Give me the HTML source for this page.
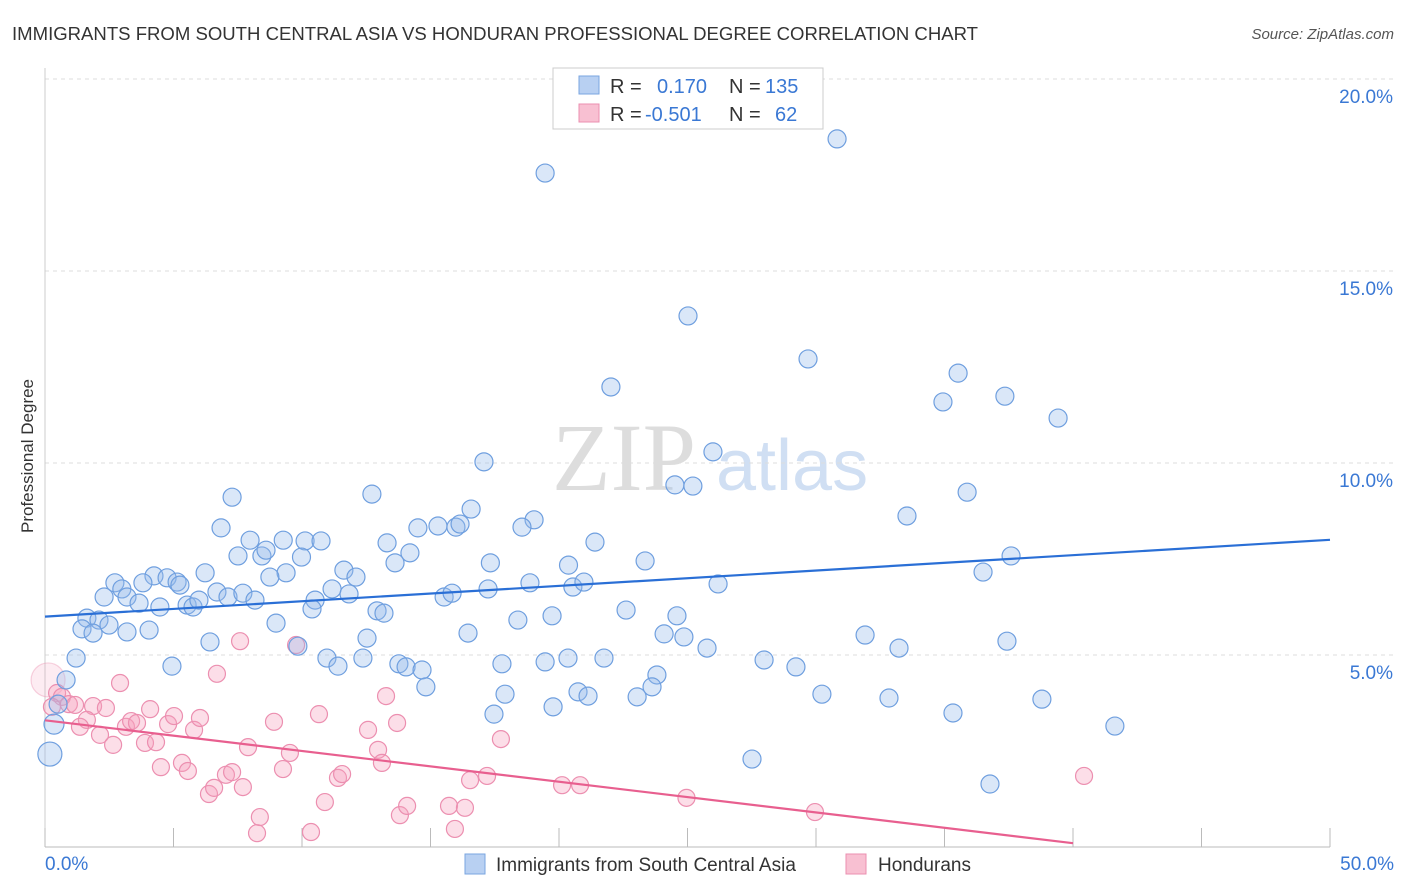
<!DOCTYPE html>
<html><head><meta charset="utf-8"><style>
body{margin:0;background:#fff;font-family:"Liberation Sans",sans-serif;}
svg{display:block}
</style></head><body>
<svg id="chart" width="1406" height="892">
<text x="12" y="40" font-size="18" fill="#333" textLength="966" lengthAdjust="spacingAndGlyphs">IMMIGRANTS FROM SOUTH CENTRAL ASIA VS HONDURAN PROFESSIONAL DEGREE CORRELATION CHART</text>
<text x="1394" y="39" font-size="15" fill="#555" font-style="italic" text-anchor="end">Source: ZipAtlas.com</text>
<text x="33" y="456" font-size="17" fill="#333" text-anchor="middle" transform="rotate(-90 33 456)">Professional Degree</text>
<g><text x="552" y="490" font-size="96" font-family="Liberation Serif,serif" fill="#ddd">ZIP</text><text x="716" y="490" font-size="72" fill="#d0dff3">atlas</text></g>
<g id="grid"></g><g id="marks"></g>
<g>
<rect x="553" y="68" width="270" height="61" fill="#fff" stroke="#ccc"/>
<rect x="579" y="76" width="20" height="18" fill="#b8d0f2" stroke="#7aa6e0"/>
<rect x="579" y="104" width="20" height="18" fill="#f8c0d2" stroke="#eb8fb0"/>
<text x="610" y="93" font-size="20" fill="#333">R = <tspan x="657" fill="#3a78d4">0.170</tspan><tspan x="729" fill="#333">N =</tspan><tspan x="765" fill="#3a78d4">135</tspan></text>
<text x="610" y="121" font-size="20" fill="#333">R = <tspan x="645" fill="#3a78d4">-0.501</tspan><tspan x="729" fill="#333">N =</tspan><tspan x="775" fill="#3a78d4">62</tspan></text>
</g>
<g>
<rect x="465" y="854" width="20" height="20" fill="#b8d0f2" stroke="#7aa6e0"/>
<text x="496" y="871" font-size="19" fill="#333">Immigrants from South Central Asia</text>
<rect x="846" y="854" width="20" height="20" fill="#f8c0d2" stroke="#eb8fb0"/>
<text x="878" y="871" font-size="19" fill="#333">Hondurans</text>
</g>
</svg>
<script>
const blueX=[19.46,30.82,25.02,29.69,22.02,35.53,34.94,37.35,39.42,17.08,25.99,24.51,25.21,35.88,33.54,7.28,12.72,16.58,19.03,18.56,15.29,15.99,16.15,14.51,6.85,7.98,9.27,10.12,10.74,13.31,21.40,7.51,8.44,8.60,9.98,14.20,13.62,17.33,20.37,23.35,37.59,36.50,6.23,9.38,8.75,11.63,12.10,4.24,4.75,5.14,5.25,3.81,2.72,2.99,3.19,2.30,3.66,4.47,5.53,5.76,5.99,6.69,7.12,7.70,8.17,10.51,10.39,11.17,11.83,15.53,15.84,17.24,18.87,20.54,20.97,26.19,12.92,13.19,22.61,19.73,18.40,24.59,1.63,2.10,2.49,1.44,1.87,3.19,4.05,8.99,16.46,24.09,24.86,31.91,12.53,6.42,9.84,37.43,1.21,10.97,12.37,20.35,25.76,33.23,4.94,11.40,13.77,14.05,14.67,17.78,19.46,21.75,27.98,29.22,23.81,0.82,14.82,23.62,20.74,21.13,17.90,23.04,30.23,32.84,38.79,0.51,19.77,17.47,35.33,41.63,0.35,0.19,27.51,36.77];
const blueY=[17.55,18.44,13.83,12.71,11.98,12.34,11.59,11.74,11.17,10.03,10.29,9.43,9.40,9.24,8.62,9.11,9.19,8.80,8.52,8.33,8.36,8.33,8.41,8.31,8.31,7.99,7.99,7.97,7.97,7.92,7.94,7.58,7.58,7.73,7.55,7.66,7.40,7.40,7.34,7.45,7.58,7.16,7.14,7.14,7.03,7.21,7.03,7.06,7.01,6.90,6.82,6.88,6.88,6.72,6.51,6.51,6.35,6.25,6.30,6.25,6.43,6.64,6.51,6.61,6.43,6.43,6.20,6.72,6.59,6.51,6.61,6.72,6.88,6.77,6.90,6.85,6.15,6.09,6.17,6.02,5.91,6.02,5.96,5.91,5.78,5.68,5.57,5.60,5.65,5.83,5.57,5.55,5.47,5.52,5.44,5.34,5.23,5.36,4.92,4.92,4.92,4.92,5.18,5.18,4.71,4.71,4.77,4.69,4.61,4.77,4.82,4.92,4.87,4.69,4.48,4.35,4.17,4.17,4.04,3.93,3.98,3.91,3.98,3.88,3.85,3.72,3.65,3.46,3.49,3.15,3.20,2.42,2.29,1.64];
const pinkX=[0.12,0.47,0.66,0.27,0.93,1.17,1.87,2.37,2.92,1.63,1.36,2.14,2.65,3.15,3.35,3.58,4.09,3.89,4.32,4.79,5.02,5.80,6.03,6.69,7.59,4.51,5.33,5.56,7.04,7.28,6.38,6.58,7.70,7.90,8.91,9.53,9.77,9.26,8.36,8.25,10.35,10.66,10.89,11.40,11.56,12.57,13.27,13.70,12.96,13.11,13.81,14.09,15.72,16.34,15.95,16.54,17.20,17.74,20.12,20.82,24.96,29.96,40.43];
const pinkY=[4.35,4.01,3.91,3.65,3.72,3.70,3.67,3.62,4.27,3.31,3.13,2.92,2.66,3.13,3.28,3.23,3.59,2.71,2.73,3.20,3.41,3.05,3.36,4.51,5.36,2.08,2.19,1.98,1.88,1.95,1.38,1.54,1.56,2.60,3.26,2.45,5.26,2.03,0.78,0.36,0.39,3.46,1.17,1.80,1.90,3.05,3.93,3.23,2.53,2.19,0.83,1.07,1.07,1.02,0.47,1.74,1.85,2.81,1.61,1.61,1.28,0.91,1.85];
const yTicks=[5,10,15,20];
const yTickLabels=["5.0%","10.0%","15.0%","20.0%"];
const blueTrend=[6.0,8.0];
const pinkTrend=[3.3,0.1]; // at x=0 and x=40
const NS='http://www.w3.org/2000/svg';
const sx=v=>45+v*25.7, sy=v=>847-v*38.4;
const grid=document.getElementById('grid'), marks=document.getElementById('marks');
function mk(tag,attrs,parent){const e=document.createElementNS(NS,tag);for(const k in attrs)e.setAttribute(k,attrs[k]);parent.appendChild(e);return e;}
yTicks.forEach((t,i)=>{
 const l=mk('line',{x1:45,x2:1394,y1:sy(t),y2:sy(t),stroke:'#ddd','stroke-dasharray':'4 4'},grid);
 
 
 const tx=mk('text',{x:1393,y:sy(t)+24,'font-size':19,fill:'#3a78d4','text-anchor':'end'},grid);
 tx.textContent=yTickLabels[i];
 
 
});
mk('line',{x1:45,x2:45,y1:68,y2:847,stroke:'#ccc'},grid);
mk('line',{x1:45,x2:1330,y1:847,y2:847,stroke:'#bbb'},grid);
for(let i=0;i<=10;i++){mk('line',{x1:sx(i*5),x2:sx(i*5),y1:828,y2:847,stroke:'#bbb'},grid);}
const xl=mk('text',{x:45,y:870,'font-size':19,fill:'#3a78d4'},grid);xl.textContent='0.0%';


const xr=mk('text',{x:1394,y:870,'font-size':19,fill:'#3a78d4','text-anchor':'end'},grid);xr.textContent='50.0%';


pinkX.forEach((x,i)=>{
 const c=mk('circle',{cx:sx(x),cy:sy(pinkY[i]),r:i===0?17:8.5,fill:i===0?'rgba(245,160,190,0.2)':'rgba(245,160,190,0.35)',stroke:i===0?'rgba(236,143,176,0.4)':'#ec8fb0','stroke-width':1.2},marks);
 
 
});
blueX.forEach((x,i)=>{
 const n=blueX.length;
 const c=mk('circle',{cx:sx(x),cy:sy(blueY[i]),r:i===n-3?12:(i===n-4?10:9),fill:'rgba(150,185,235,0.35)',stroke:'#6f9fdf','stroke-width':1.2},marks);
 
 
});
const bl=mk('line',{x1:sx(0),y1:sy(blueTrend[0]),x2:sx(50),y2:sy(blueTrend[1]),stroke:'#2a6fd6','stroke-width':2.2},marks);


const pl=mk('line',{x1:sx(0),y1:sy(pinkTrend[0]),x2:sx(40),y2:sy(pinkTrend[1]),stroke:'#e85f8f','stroke-width':2.2},marks);


</script>
</body></html>
